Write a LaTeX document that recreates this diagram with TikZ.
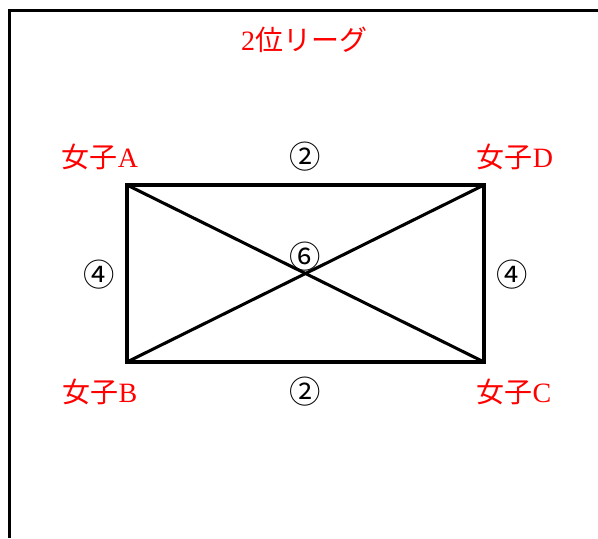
\documentclass[tikz,border=0pt]{standalone}
\usepackage{fontspec}
\setmainfont{Liberation Serif}
\newfontfamily\jp{Noto Sans CJK JP}
\begin{document}
\begin{tikzpicture}[x=0.75pt,y=-0.75pt,
  lbl/.style={text=red,font=\fontsize{21}{24}\selectfont,inner sep=0pt,anchor=center},
  num/.style={text=black,font=\fontsize{23.5}{26}\selectfont\jp,inner sep=0pt,anchor=center},
  edge/.style={line width=2.3pt,line join=miter}]
\useasboundingbox (0,0) rectangle (598,538);
\coordinate (bl) at (9.5,538);
\coordinate (tl) at (9.5,10.5);
\coordinate (tr) at (598,10.5);
\draw[edge] (bl) -- (tl) -- (tr);
\coordinate (A) at (127,185);
\coordinate (D) at (484,185);
\coordinate (C) at (484,362);
\coordinate (B) at (127,362);
\draw[edge] (A) -- (D) -- (C) -- (B) -- cycle;
\draw[edge] (A) -- (C);
\draw[edge] (B) -- (D);
\node[lbl] (title) at (304,40) {2{\jp 位リーグ}};
\node[lbl] (la) at (100,157) {{\jp 女子}A};
\node[lbl] (ld) at (515,157) {{\jp 女子}D};
\node[lbl] (lb) at (100,392) {{\jp 女子}B};
\node[lbl] (lc) at (514,392) {{\jp 女子}C};
\node[num] (n1) at (305,157) {②};
\node[num] (n2) at (305,392) {②};
\node[num] (n3) at (99,275) {④};
\node[num] (n4) at (512,275) {④};
\node[num] (n5) at (305,257) {⑥};
\end{tikzpicture}
\end{document}
